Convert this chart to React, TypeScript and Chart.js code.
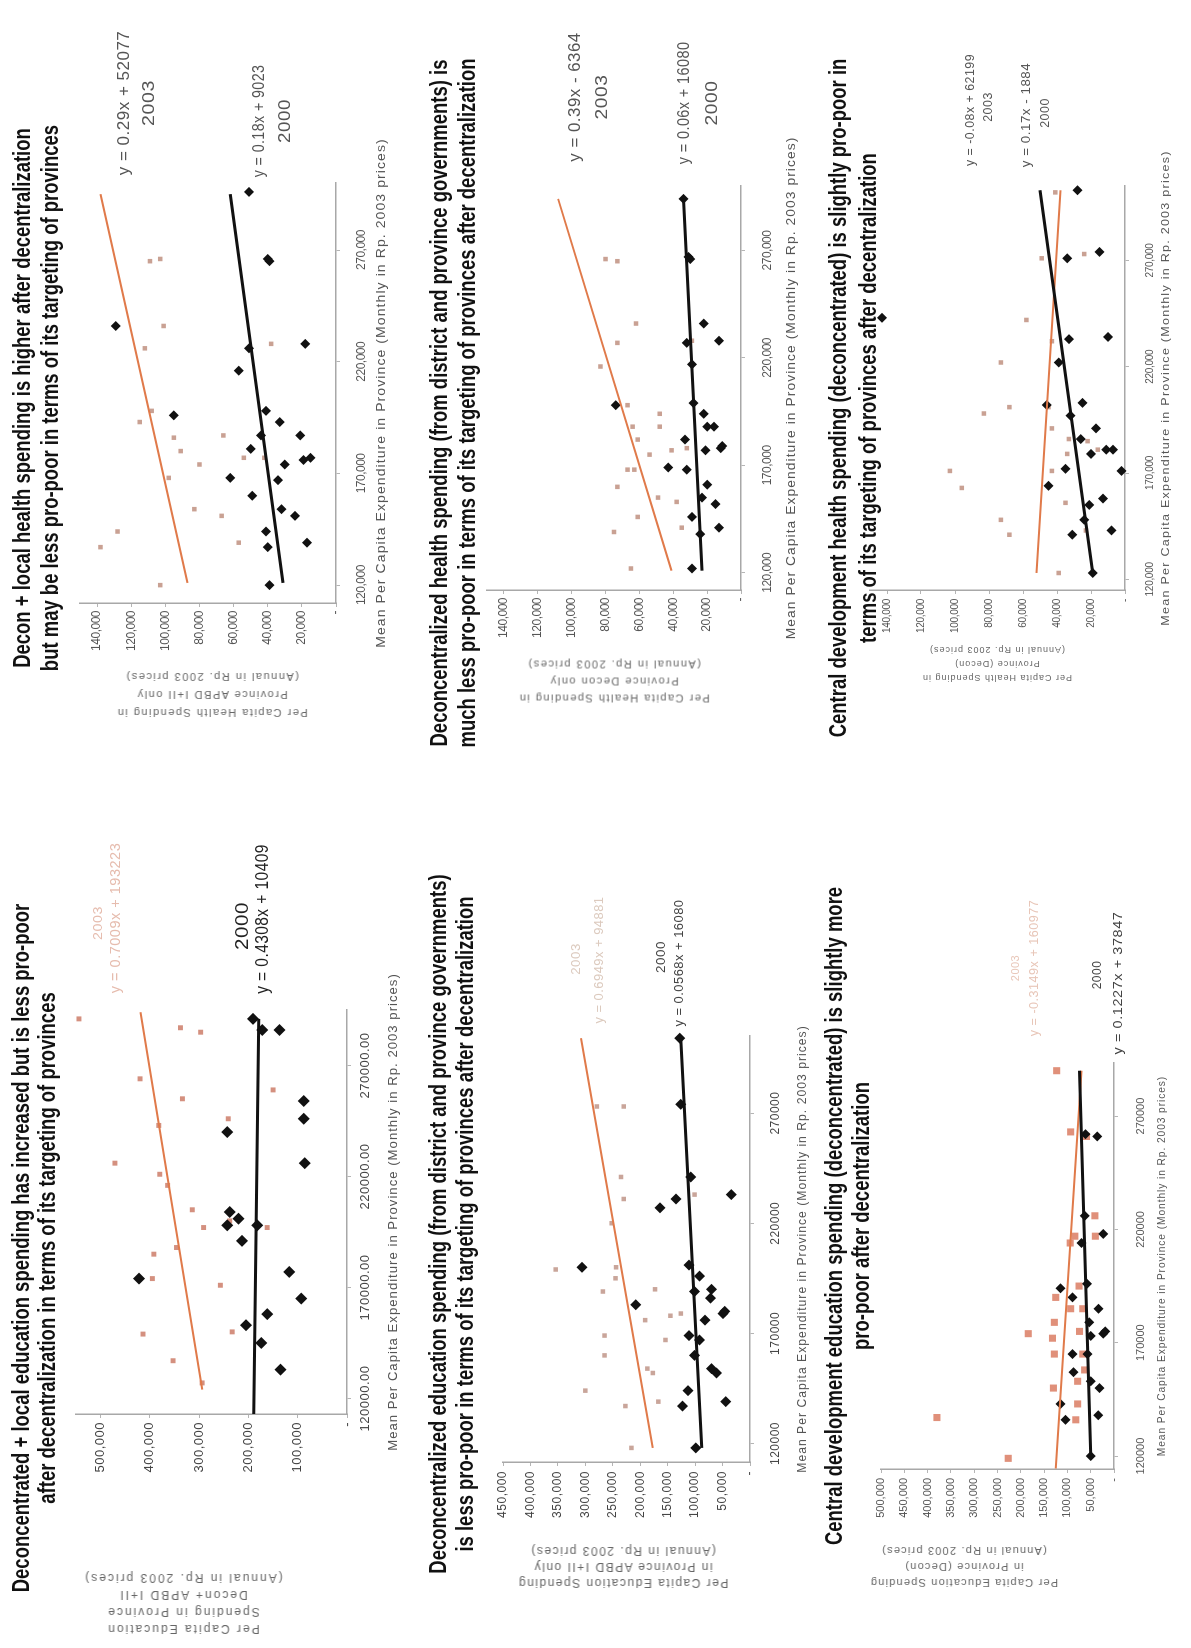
import React, { useEffect, useLayoutEffect, useRef } from "react";
import { Chart, registerables } from "chart.js";

Chart.register(...registerables);

const SANS = '"Liberation Sans", Arial, "DejaVu Sans", sans-serif';

const X_TITLE = "Mean Per Capita Expenditure in Province (Monthly in Rp. 2003 prices)";

// ---------- shared tick values / labels ----------
const xTickValues = [120000, 170000, 220000, 270000];
const xLabelsComma = ["120,000", "170,000", "220,000", "270,000"];
const xLabelsDecimal = ["120000.00", "170000.00", "220000.00", "270000.00"];
const xLabelsPlain = ["120000", "170000", "220000", "270000"];

const healthYTicks = [0, 20000, 40000, 60000, 80000, 100000, 120000, 140000];
const healthYLabels = ["-", "20,000", "40,000", "60,000", "80,000", "100,000", "120,000", "140,000"];
const eduLocalYTicks = [0, 100000, 200000, 300000, 400000, 500000];
const eduLocalYLabels = ["-", "100,000", "200,000", "300,000", "400,000", "500,000"];
const eduDeconYTicks = [0, 50000, 100000, 150000, 200000, 250000, 300000, 350000, 400000, 450000];
const eduDeconYLabels = ["-", "50,000", "100,000", "150,000", "200,000", "250,000", "300,000", "350,000", "400,000", "450,000"];
const eduCentralYTicks = [0, 50000, 100000, 150000, 200000, 250000, 300000, 350000, 400000, 450000, 500000];
const eduCentralYLabels = ["-", "50,000", "100,000", "150,000", "200,000", "250,000", "300,000", "350,000", "400,000", "450,000", "500,000"];

// ---------- A: Decon + local health ----------
const aTitle = [
  "Decon + local health spending is higher after decentralization",
  "but may be less pro-poor in terms of its targeting of provinces",
];
const aYTitle = ["Per Capita  Health Spending in", "Province APBD I+II only", "(Annual in Rp. 2003 prices)"];
const aX2003 = [137000, 144000, 120000, 154000, 168000, 174000, 151000, 139000, 180000, 186000, 187000, 177000, 177000, 193000, 198000, 226000, 236000, 228000, 265000, 266000];
const aY2003 = [138000, 128000, 103000, 83000, 98000, 80000, 67000, 57000, 91000, 95000, 66000, 54000, 42000, 115000, 108000, 112000, 101000, 38000, 109000, 103000];
const aX2000 = [120000, 137000, 139000, 144000, 151000, 154000, 160000, 168000, 167000, 174000, 176000, 177000, 181000, 187000, 187000, 193000, 196000, 198000, 216000, 226000, 228000, 236000, 265000, 266000, 296000];
const aY2000 = [39000, 40000, 17000, 41000, 24000, 32000, 49000, 62000, 34000, 30000, 19000, 15000, 50000, 44000, 21000, 33000, 95000, 41000, 57000, 51000, 18000, 129000, 39000, 40000, 51000];
const aTrend2003X = [121000, 295000];
const aTrend2003Y = [87000, 138000];
const aTrend2000X = [121000, 295000];
const aTrend2000Y = [31000, 62000];
const aEquations = ["y = 0.29x + 52077", "2003", "y = 0.18x + 9023", "2000"];

// ---------- B: Deconcentralized health ----------
const bTitle = [
  "Deconcentralized health spending (from district and province governments) is",
  "much less pro-poor in terms of its targeting of provinces after decentralization",
];
const bYTitle = ["Per Capita  Health Spending in", "Province  Decon only", "(Annual in Rp. 2003 prices)"];
const bX2003 = [122000, 139000, 146000, 160000, 155000, 153000, 141000, 168000, 168000, 175000, 177000, 182000, 188000, 188000, 194000, 198000, 216000, 227000, 236000, 266000, 265000, 178000, 228000, 266000];
const bY2003 = [65000, 75000, 61000, 73000, 49000, 38000, 35000, 67000, 63000, 54000, 41000, 61000, 64000, 48000, 48000, 67000, 83000, 73000, 62000, 80000, 73000, 32000, 29000, 31000];
const bX2000 = [122000, 138000, 146000, 141000, 152000, 155000, 161000, 168000, 169000, 177000, 178000, 179000, 182000, 188000, 188000, 194000, 199000, 198000, 217000, 227000, 228000, 236000, 266000, 267000, 294000];
const bY2000 = [29000, 24000, 29000, 13000, 15000, 23000, 20000, 32000, 43000, 21000, 12000, 11000, 33000, 16000, 20000, 22000, 28000, 74000, 29000, 32000, 13000, 22000, 30000, 31000, 34000];
const bTrend2003X = [121000, 294000];
const bTrend2003Y = [41000, 108000];
const bTrend2000X = [121000, 294000];
const bTrend2000Y = [23000, 34000];
const bEquations = ["y = 0.39x - 6364", "2003", "y = 0.06x + 16080", "2000"];

// ---------- C: Central development health ----------
const cTitle = [
  "Central development health spending (deconcentrated) is slightly pro-poor in",
  "terms of its targeting of provinces after decentralization",
];
const cYTitle = ["Per Capita  Health Spending in", "Province  (Decon)", "(Annual in Rp. 2003 prices)"];
const cX2003 = [123000, 141000, 148000, 143000, 163000, 171000, 156000, 171000, 186000, 179000, 198000, 201000, 201000, 185000, 181000, 191000, 222000, 232000, 242000, 271000, 273000, 302000];
const cY2003 = [39000, 68000, 73000, 23000, 96000, 103000, 35000, 43000, 33000, 34000, 83000, 68000, 45000, 22000, 16000, 43000, 73000, 43000, 58000, 49000, 24000, 41000];
const cX2000 = [123000, 141000, 143000, 148000, 155000, 158000, 164000, 172000, 171000, 179000, 181000, 181000, 186000, 191000, 197000, 203000, 202000, 222000, 233000, 234000, 243000, 271000, 274000, 303000];
const cY2000 = [19000, 31000, 8000, 24000, 21000, 13000, 45000, 35000, 2000, 20000, 11000, 7000, 26000, 17000, 32000, 25000, 46000, 39000, 33000, 10000, 143000, 34000, 15000, 28000];
const cTrend2003X = [123000, 303000];
const cTrend2003Y = [52000, 38000];
const cTrend2000X = [123000, 303000];
const cTrend2000Y = [19000, 50000];
const cEquations = ["y = -0.08x + 62199", "2003", "y = 0.17x - 1884", "2000"];

// ---------- D: Deconcentrated + local education ----------
const dTitle = [
  "Deconcentrated + local education spending has increased but is less pro-poor",
  "after decentralization in terms of its targeting of provinces",
];
const dYTitle = ["Per Capita  Education", "Spending in Province", "Decon+  APBD I+II", "(Annual in Rp. 2003 prices)"];
const dX2003 = [127000, 137000, 149000, 150000, 171000, 174000, 185000, 188000, 197000, 205000, 200000, 197000, 216000, 221000, 226000, 243000, 246000, 255000, 264000, 259000, 287000, 285000, 291000];
const dY2003 = [294000, 353000, 414000, 233000, 257000, 395000, 392000, 346000, 291000, 314000, 238000, 162000, 364000, 380000, 471000, 382000, 241000, 334000, 420000, 150000, 338000, 297000, 544000];
const dX2000 = [133000, 145000, 153000, 158000, 165000, 174000, 177000, 191000, 198000, 201000, 204000, 198000, 226000, 240000, 246000, 254000, 286000, 286000, 291000];
const dY2000 = [135000, 174000, 205000, 162000, 93000, 422000, 117000, 213000, 243000, 220000, 238000, 182000, 86000, 243000, 88000, 88000, 137000, 172000, 191000];
const dTrend2003X = [124000, 294000];
const dTrend2003Y = [294000, 419000];
const dTrend2000X = [113000, 291000];
const dTrend2000Y = [189000, 179000];
const dEquations = ["2003", "y = 0.7009x + 193223", "2000", "y = 0.4308x + 10409"];

// ---------- E: Deconcentralized education ----------
const eTitle = [
  "Deconcentralized education spending (from district and province governments)",
  "is less pro-poor in terms of its targeting of provinces after decentralization",
];
const eYTitle = ["Per Capita  Education Spending", "in Province APBD I+II only", "(Annual in Rp. 2003 prices)"];
const eX2003 = [118000, 144000, 137000, 139000, 152000, 154000, 160000, 169000, 167000, 176000, 178000, 179000, 190000, 189000, 199000, 195000, 200000, 220000, 231000, 233000, 241000, 273000, 273000];
const eY2003 = [216000, 300000, 227000, 167000, 177000, 187000, 265000, 265000, 154000, 191000, 145000, 126000, 173000, 268000, 354000, 245000, 244000, 252000, 230000, 101000, 235000, 279000, 230000];
const eX2000 = [118000, 137000, 144000, 139000, 154000, 152000, 160000, 169000, 167000, 176000, 179000, 180000, 186000, 189000, 183000, 190000, 196000, 200000, 201000, 227000, 231000, 233000, 241000, 274000, 304000];
const eY2000 = [99000, 123000, 113000, 44000, 70000, 61000, 101000, 111000, 92000, 82000, 49000, 46000, 72000, 101000, 208000, 70000, 92000, 306000, 111000, 164000, 135000, 34000, 108000, 126000, 128000];
const eTrend2003X = [118000, 304000];
const eTrend2003Y = [177000, 308000];
const eTrend2000X = [118000, 304000];
const eTrend2000Y = [88000, 126000];
const eEquations = ["2003", "y = 0.6949x + 94881", "2000", "y = 0.0568x + 16080"];

// ---------- F: Central development education ----------
const fTitle = [
  "Central development education spending (deconcentrated) is slightly more",
  "pro-poor after decentralization",
];
const fYTitle = ["Per Capita  Education Spending", "in Province  (Decon)", "(Annual in Rp. 2003 prices)"];
const fX2003 = [119000, 137000, 136000, 150000, 143000, 158000, 165000, 165000, 153000, 174000, 172000, 175000, 179000, 185000, 190000, 195000, 185000, 214000, 217000, 217000, 226000, 263000, 261000, 290000];
const fY2003 = [227000, 380000, 82000, 130000, 78000, 63000, 128000, 67000, 78000, 184000, 132000, 74000, 128000, 93000, 125000, 75000, 67000, 94000, 84000, 40000, 41000, 93000, 59000, 123000];
const fX2000 = [120000, 136000, 138000, 143000, 153000, 150000, 157000, 165000, 165000, 173000, 174000, 175000, 179000, 185000, 190000, 196000, 194000, 214000, 218000, 226000, 262000, 261000];
const fY2000 = [50000, 104000, 34000, 115000, 50000, 31000, 87000, 57000, 89000, 50000, 23000, 19000, 53000, 33000, 89000, 58000, 115000, 70000, 23000, 63000, 61000, 36000];
const fTrend2003X = [114500, 290000];
const fTrend2003Y = [125000, 70000];
const fTrend2000X = [120000, 290000];
const fTrend2000Y = [50000, 74000];
const fEquations = ["2003", "y = -0.3149x + 160977", "2000", "y = 0.1227x + 37847"];

const pts = (xs: number[], ys: number[]) => xs.map((x, i) => ({ x, y: ys[i] }));

const ORANGE = "#e07a4a";
const FADED = "#e6bcae";
const TITLE_K = 0.77;

const specs: any[] = [
  {
    id: "A", canvas: { x: 828, y: 0, w: 820, h: 400 }, plot: { L: 1045, R: 1465, T: 80, B: 336 },
    xMin: 112000, xMax: 300000, yMax: 150000,
    xLabels: xLabelsComma, yTicks: healthYTicks, yLabels: healthYLabels,
    x2003: aX2003, y2003: aY2003, x2000: aX2000, y2000: aY2000,
    t03x: aTrend2003X, t03y: aTrend2003Y, t00x: aTrend2000X, t00y: aTrend2000Y,
    sq: 3.2, sqColor: "#c9a193", dm: 5,
    tickSize: 12, tickColor: "#555", xPad: 14, yPad: 4, tickSpacing: "-0.5px",
    title: aTitle, titleYs: [22, 50], titleX: 1250,
    yTitle: aYTitle, yTitleX: 953, yTitleY: 212, yTitleSize: 11, yTitleLh: 18, yTitleSpacing: 1.5,
    xTitleY: 380, xTitleSize: 13, xTitleW: 510,
    eqs: [
      { t: aEquations[0], x: 1545, y: 123, size: 17, w: 145, color: "#555" },
      { t: aEquations[1], x: 1545, y: 148, size: 17, w: 46, color: "#555" },
      { t: aEquations[2], x: 1527, y: 258, size: 17, w: 113, color: "#555" },
      { t: aEquations[3], x: 1527, y: 284, size: 17, w: 44, color: "#555" },
    ],
  },
  {
    id: "B", canvas: { x: 828, y: 400, w: 820, h: 405 }, plot: { L: 1058, R: 1462, T: 487, B: 741 },
    xMin: 112000, xMax: 300000, yMax: 150000,
    xLabels: xLabelsComma, yTicks: healthYTicks, yLabels: healthYLabels,
    x2003: bX2003, y2003: bY2003, x2000: bX2000, y2000: bY2000,
    t03x: bTrend2003X, t03y: bTrend2003Y, t00x: bTrend2000X, t00y: bTrend2000Y,
    sq: 3.2, sqColor: "#c9a193", dm: 5,
    tickSize: 12, tickColor: "#555", xPad: 15, yPad: 4, tickSpacing: "-0.5px",
    title: bTitle, titleYs: [439, 467], titleX: 1245,
    yTitle: bYTitle, yTitleX: 967, yTitleY: 614, yTitleSize: 11, yTitleLh: 17, yTitleSpacing: 1.5,
    xTitleY: 790, xTitleSize: 13, xTitleW: 503,
    eqs: [
      { t: bEquations[0], x: 1551, y: 574, size: 17, w: 129, color: "#555" },
      { t: bEquations[1], x: 1551, y: 601, size: 17, w: 45, color: "#555" },
      { t: bEquations[2], x: 1545, y: 683, size: 17, w: 123, color: "#555" },
      { t: bEquations[3], x: 1545, y: 711, size: 17, w: 45, color: "#555" },
    ],
  },
  {
    id: "C", canvas: { x: 828, y: 805, w: 820, h: 386 }, plot: { L: 1058, R: 1462, T: 870, B: 1125 },
    xMin: 115000, xMax: 305000, yMax: 150000,
    xLabels: xLabelsComma, yTicks: healthYTicks, yLabels: healthYLabels,
    x2003: cX2003, y2003: cY2003, x2000: cX2000, y2000: cY2000,
    t03x: cTrend2003X, t03y: cTrend2003Y, t00x: cTrend2000X, t00y: cTrend2000Y,
    sq: 3.2, sqColor: "#c9a193", dm: 5,
    tickSize: 10, tickColor: "#555", xPad: 15, yPad: 5, tickSpacing: "-0.3px",
    title: cTitle, titleYs: [838, 868], titleX: 1250,
    yTitle: cYTitle, yTitleX: 984, yTitleY: 997, yTitleSize: 9, yTitleLh: 14, yTitleSpacing: 1,
    xTitleY: 1166, xTitleSize: 10, xTitleW: 475,
    eqs: [
      { t: cEquations[0], x: 1538, y: 970, size: 12, w: 112, color: "#555" },
      { t: cEquations[1], x: 1541, y: 988, size: 12, w: 30, color: "#555" },
      { t: cEquations[2], x: 1533, y: 1026, size: 12, w: 104, color: "#555" },
      { t: cEquations[3], x: 1535, y: 1045, size: 12, w: 30, color: "#555" },
    ],
  },
  {
    id: "D", canvas: { x: 0, y: 0, w: 828, h: 400 }, plot: { L: 234, R: 638, T: 76, B: 347 },
    xMin: 113000, xMax: 295000, yMax: 550000,
    xLabels: xLabelsDecimal, yTicks: eduLocalYTicks, yLabels: eduLocalYLabels,
    x2003: dX2003, y2003: dY2003, x2000: dX2000, y2000: dY2000,
    t03x: dTrend2003X, t03y: dTrend2003Y, t00x: dTrend2000X, t00y: dTrend2000Y,
    sq: 3.5, sqColor: "#d4907f", dm: 6,
    tickSize: 13, tickColor: "#444", xPad: 7, yPad: 4, tickSpacing: "0.5px",
    title: dTitle, titleYs: [21, 47], titleX: 400,
    yTitle: dYTitle, yTitleX: 45, yTitleY: 183, yTitleSize: 12, yTitleLh: 17, yTitleSpacing: 2,
    xTitleY: 392, xTitleSize: 13, xTitleW: 478,
    eqs: [
      { t: dEquations[0], x: 725, y: 97, size: 13, w: 34, color: FADED },
      { t: dEquations[1], x: 730, y: 115, size: 14, w: 150, color: FADED },
      { t: dEquations[2], x: 722, y: 242, size: 18, w: 48, color: "#222" },
      { t: dEquations[3], x: 729, y: 262, size: 18, w: 150, color: "#222" },
    ],
  },
  {
    id: "E", canvas: { x: 0, y: 400, w: 828, h: 420 }, plot: { L: 186, R: 612, T: 503, B: 750 },
    xMin: 111600, xMax: 305000, yMax: 450000,
    xLabels: xLabelsPlain, yTicks: eduDeconYTicks, yLabels: eduDeconYLabels,
    x2003: eX2003, y2003: eY2003, x2000: eX2000, y2000: eY2000,
    t03x: eTrend2003X, t03y: eTrend2003Y, t00x: eTrend2000X, t00y: eTrend2000Y,
    sq: 3.2, sqColor: "#c9a59a", dm: 5.5,
    tickSize: 12, tickColor: "#444", xPad: 14, yPad: 5, tickSpacing: "0.5px",
    title: eTitle, titleYs: [438, 465], titleX: 424,
    yTitle: eYTitle, yTitleX: 81, yTitleY: 623, yTitleSize: 12, yTitleLh: 16, yTitleSpacing: 1.5,
    xTitleY: 802, xTitleSize: 12, xTitleW: 448,
    eqs: [
      { t: eEquations[0], x: 689, y: 576, size: 12, w: 32, color: "#dccabe" },
      { t: eEquations[1], x: 688, y: 598, size: 13, w: 127, color: "#dccabe" },
      { t: eEquations[2], x: 691, y: 660, size: 13, w: 32, color: "#444" },
      { t: eEquations[3], x: 685, y: 678, size: 13, w: 127, color: "#444" },
    ],
  },
  {
    id: "F", canvas: { x: 0, y: 805, w: 828, h: 386 }, plot: { L: 179, R: 585, T: 881, B: 1114 },
    xMin: 114300, xMax: 293400, yMax: 500000,
    xLabels: xLabelsPlain, yTicks: eduCentralYTicks, yLabels: eduCentralYLabels,
    x2003: fX2003, y2003: fY2003, x2000: fX2000, y2000: fY2000,
    t03x: fTrend2003X, t03y: fTrend2003Y, t00x: fTrend2000X, t00y: fTrend2000Y,
    sq: 5, sqColor: "#e0907a", dm: 5,
    tickSize: 11, tickColor: "#555", xPad: 16, yPad: 5, tickSpacing: "0px",
    title: fTitle, titleYs: [834, 861], titleX: 432,
    yTitle: fYTitle, yTitleX: 81, yTitleY: 964, yTitleSize: 11, yTitleLh: 16, yTitleSpacing: 1.2,
    xTitleY: 1161, xTitleSize: 11, xTitleW: 380,
    eqs: [
      { t: fEquations[0], x: 680, y: 1015, size: 11, w: 26, color: "#e8c6b8" },
      { t: fEquations[1], x: 680, y: 1034, size: 12, w: 137, color: "#e8c6b8" },
      { t: fEquations[2], x: 673, y: 1097, size: 12, w: 29, color: "#444" },
      { t: fEquations[3], x: 665, y: 1118, size: 12, w: 143, color: "#444" },
    ],
  },
];

const spacingPlugin = {
  id: "tickSpacing",
  beforeDraw(chart: any, _args: any, opts: any) {
    try { chart.ctx.letterSpacing = opts.spacing || "0px"; } catch (e) {}
  },
  afterDraw(chart: any) {
    try { chart.ctx.letterSpacing = "0px"; } catch (e) {}
  },
};

function Panel({ s }: { s: any }) {
  const ref = useRef<HTMLCanvasElement | null>(null);
  useEffect(() => {
    const cv = ref.current;
    if (!cv) return;
    const YW = 70;
    const XH = 40;
    const pad = {
      left: s.plot.L - s.canvas.x - YW,
      top: s.plot.T - s.canvas.y,
      right: s.canvas.x + s.canvas.w - s.plot.R,
      bottom: s.canvas.y + s.canvas.h - s.plot.B - XH,
    };
    const tickFont = { family: SANS, size: s.tickSize };
    const chart = new Chart(cv, {
      type: "scatter",
      data: {
        datasets: [
          {
            label: "2003", data: pts(s.x2003, s.y2003), pointStyle: "rect", pointRadius: s.sq,
            backgroundColor: s.sqColor, borderColor: s.sqColor, borderWidth: 0, clip: false, order: 4,
          },
          {
            label: "2000", data: pts(s.x2000, s.y2000), pointStyle: "rectRot", pointRadius: s.dm,
            backgroundColor: "#111", borderColor: "#111", borderWidth: 0, clip: false, order: 3,
          },
          {
            label: "trend 2003", data: pts(s.t03x, s.t03y), showLine: true, pointRadius: 0,
            borderColor: ORANGE, borderWidth: 2, clip: false, order: 2,
          },
          {
            label: "trend 2000", data: pts(s.t00x, s.t00y), showLine: true, pointRadius: 0,
            borderColor: "#111", borderWidth: 3, clip: false, order: 1,
          },
        ],
      } as any,
      options: {
        animation: false,
        responsive: false,
        devicePixelRatio: 1,
        layout: { padding: pad },
        plugins: {
          legend: { display: false },
          tooltip: { enabled: false },
          title: { display: false },
          tickSpacing: { spacing: s.tickSpacing },
        } as any,
        scales: {
          x: {
            type: "linear",
            min: s.xMin,
            max: s.xMax,
            afterBuildTicks: (sc: any) => { sc.ticks = xTickValues.map((v) => ({ value: v })); },
            afterFit: (sc: any) => { sc.height = XH; },
            grid: { display: true, drawOnChartArea: false, drawTicks: true, tickLength: 4, color: "#b5b5b5" },
            border: { display: true, color: "#a8a8a8", width: 1.5 },
            ticks: {
              autoSkip: false, maxRotation: 0, minRotation: 0, padding: s.xPad,
              font: tickFont, color: s.tickColor,
              callback: (_v: any, i: number) => s.xLabels[i],
            },
          },
          y: {
            type: "linear",
            min: 0,
            max: s.yMax,
            afterBuildTicks: (sc: any) => { sc.ticks = s.yTicks.map((v: number) => ({ value: v })); },
            afterFit: (sc: any) => { sc.width = YW; },
            grid: { display: true, drawOnChartArea: false, drawTicks: true, tickLength: 4, color: "#b5b5b5" },
            border: { display: true, color: "#a8a8a8", width: 1.5 },
            ticks: {
              autoSkip: false, padding: s.yPad, font: tickFont, color: s.tickColor,
              callback: (_v: any, i: number) => s.yLabels[i],
            },
          },
        },
      } as any,
      plugins: [spacingPlugin as any],
    });
    return () => chart.destroy();
  }, [s]);
  return (
    <canvas
      ref={ref}
      width={s.canvas.w}
      height={s.canvas.h}
      style={{ position: "absolute", left: s.canvas.x, top: s.canvas.y, width: s.canvas.w, height: s.canvas.h }}
    />
  );
}

function Txt({ x, y, children, style, rotate, w, k }: any) {
  const inner = useRef<HTMLSpanElement | null>(null);
  useLayoutEffect(() => {
    const el = inner.current;
    if (!el) return;
    let f = k || 1;
    if (w) {
      const nat = el.offsetWidth;
      if (nat > 0) f = w / nat;
    }
    el.style.transform = `scaleX(${f})`;
  }, [w, k]);
  return (
    <div
      style={{
        position: "absolute",
        left: x,
        top: y,
        transform: `translate(-50%, -50%)${rotate ? " rotate(-90deg)" : ""}`,
        whiteSpace: "nowrap",
        textAlign: "center",
        ...style,
      }}
    >
      <span ref={inner} style={{ display: "inline-block", transformOrigin: "50% 50%" }}>{children}</span>
    </div>
  );
}

function Labels({ s }: { s: any }) {
  const plotCx = (s.plot.L + s.plot.R) / 2;
  return (
    <>
      {s.title.map((line: string, i: number) => (
        <Txt key={"t" + i} x={s.titleX} y={s.titleYs[i]} k={TITLE_K}
          style={{ fontFamily: SANS, fontWeight: "bold", fontSize: 24, color: "#111", lineHeight: "26px" }}>
          {line}
        </Txt>
      ))}
      <Txt x={s.yTitleX} y={s.yTitleY} rotate
        style={{ fontFamily: SANS, fontSize: s.yTitleSize, color: "#666", lineHeight: s.yTitleLh + "px", letterSpacing: s.yTitleSpacing + "px" }}>
        {s.yTitle.map((line: string, i: number) => (<div key={i}>{line}</div>))}
      </Txt>
      <Txt x={plotCx} y={s.xTitleY} w={s.xTitleW}
        style={{ fontFamily: SANS, fontSize: s.xTitleSize, color: "#555", letterSpacing: "1px", lineHeight: "1" }}>
        {X_TITLE}
      </Txt>
      {s.eqs.map((e: any, i: number) => (
        <Txt key={"e" + i} x={e.x} y={e.y} w={e.w}
          style={{ fontFamily: SANS, fontSize: e.size, color: e.color, letterSpacing: "0.5px", lineHeight: "1" }}>
          {e.t}
        </Txt>
      ))}
    </>
  );
}

export default function App() {
  useEffect(() => {
    document.body.style.margin = "0";
    document.body.style.overflow = "hidden";
    document.documentElement.style.overflow = "hidden";
  }, []);
  return (
    <div style={{ position: "fixed", left: 0, top: 0, width: 1191, height: 1648, overflow: "hidden", background: "#fff" }}>
      <div
        style={{
          position: "absolute",
          left: 0,
          top: 0,
          width: 1648,
          height: 1191,
          transformOrigin: "0 0",
          transform: "translate(0px, 1648px) rotate(-90deg)",
          background: "#fff",
        }}
      >
        {specs.map((s) => (
          <React.Fragment key={s.id}>
            <Panel s={s} />
            <Labels s={s} />
          </React.Fragment>
        ))}
      </div>
    </div>
  );
}
